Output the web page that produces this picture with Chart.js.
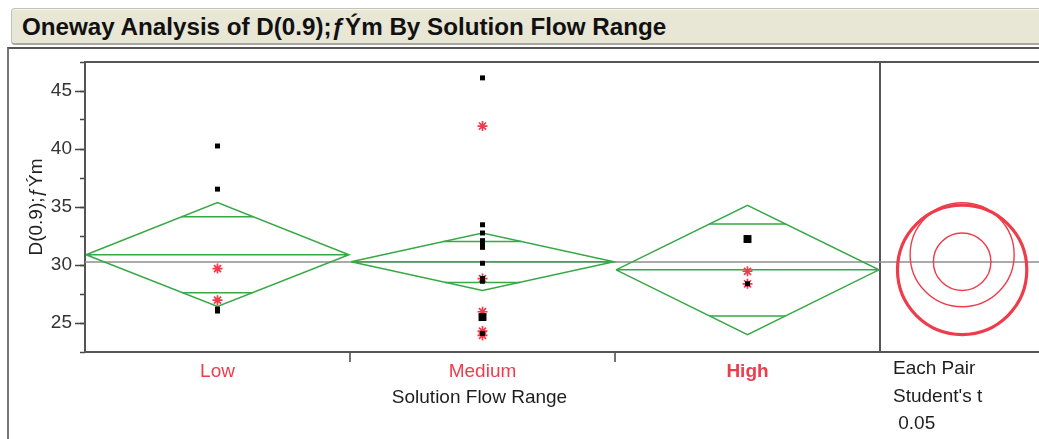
<!DOCTYPE html>
<html>
<head>
<meta charset="utf-8">
<script src="https://cdn.jsdelivr.net/npm/chart.js@4.4.1/dist/chart.umd.min.js"></script>
<style>
  html, body { margin: 0; padding: 0; background: #fff; }
  #page { position: relative; width: 1039px; height: 439px; overflow: hidden; }
  #title {
    position: absolute; left: 11px; top: 8px; width: 1040px; height: 37px;
    box-sizing: border-box; background: #e8e6d5;
    border: 1px solid #c4c2b4; border-bottom: 2px solid #a9a89e; border-radius: 4px;
    box-shadow: inset 0 1px 0 #f6f5ee;
    font: bold 24.2px "Liberation Sans", Arial, sans-serif; color: #111;
    line-height: 35px; padding-left: 10px; white-space: nowrap;
  }
  #frame {
    position: absolute; left: 7px; top: 47px; width: 1040px; height: 400px;
    border-top: 2px solid #555; border-left: 2px solid #777;
  }
  #chart { position: absolute; left: 0; top: 0; }
</style>
</head>
<body>
<div id="page">
<div id="title">Oneway Analysis of D(0.9);ƒÝm By Solution Flow Range</div>
<div id="frame"></div>
<canvas id="chart" width="1039" height="439"></canvas>
</div>
<script>
// Groups on the x axis
const categories = ['Low', 'Medium', 'High'];

// Observations drawn as small black squares, per group
const squareLow = [40.26, 36.54, 26.20, 26.03];
const squareMedium = [46.13, 33.47, 32.76, 32.10, 31.81, 31.52, 30.15, 28.83, 28.60, 24.10];
const squareHigh = [28.38];

// Observations drawn as large black squares
const bigSquareLow = [];
const bigSquareMedium = [25.51];
const bigSquareHigh = [32.24];

// Observations drawn as red asterisks
const starLow = [29.69, 26.97];
const starMedium = [41.98, 28.83, 25.97, 24.30, 23.93];
const starHigh = [29.46, 28.38];

// Means diamonds: group mean, 95% interval ends, overlap marks
const groupMeans = [30.88, 30.28, 29.58];
const ciUpper = [35.39, 32.76, 35.15];
const ciLower = [26.42, 27.80, 24.00];
const overlapUpper = [34.16, 32.03, 33.53];
const overlapLower = [27.60, 28.50, 25.60];
const grandMean = 30.25;

// Y axis ticks
const yMajorTicks = [25, 30, 35, 40, 45];
const yMinorTicks = [22.5, 25, 27.5, 30, 32.5, 35, 37.5, 40, 42.5, 45, 47.5];

const xTitle = 'Solution Flow Range';
const compareNote = ['Each Pair', "Student's t", ' 0.05'];

const FONT = '"Liberation Sans", Arial, Helvetica, sans-serif';
const RED = '#ee3c4b';
const GREEN = '#37a846';
const selectedGroup = 2; // High is the highlighted level
const circleX = 3.31;    // comparison-circle column

function pts(groupIndex, values) {
  return values.map(v => ({ x: groupIndex + 0.5, y: v }));
}
function allPts(lists) {
  return lists.flatMap((vals, i) => pts(i, vals));
}

// Diamond outlines plus their mean lines, broken by gaps
const diamondData = [];
const overlapData = [];
categories.forEach((c, i) => {
  const m = groupMeans[i], l = i + 0.004, r = i + 0.996, mid = i + 0.5;
  diamondData.push(
    { x: l, y: m }, { x: mid, y: ciUpper[i] }, { x: r, y: m }, { x: mid, y: ciLower[i] }, { x: l, y: m },
    { x: mid, y: null },
    { x: l, y: m }, { x: r, y: m },
    { x: mid, y: null }
  );
  // overlap marks run edge to edge across the diamond at their level
  [overlapUpper[i], overlapLower[i]].forEach(v => {
    const tip = v > m ? ciUpper[i] : ciLower[i];
    const half = 0.5 * (1 - (v - m) / (tip - m));
    overlapData.push({ x: mid - half, y: v }, { x: mid + half, y: v }, { x: mid, y: null });
  });
});

const circleData = groupMeans.map(m => ({ x: circleX, y: m }));

const notes = {
  id: 'notes',
  afterDraw(chart) {
    const { ctx, chartArea, scales: { x } } = chart;
    ctx.save();
    ctx.font = '19px ' + FONT;
    ctx.fillStyle = '#1e1e1e';
    ctx.textBaseline = 'middle';
    ctx.textAlign = 'center';
    ctx.fillText(xTitle, x.getPixelForValue(1.5) - 3, chartArea.bottom + 46);
    ctx.textAlign = 'left';
    compareNote.forEach((t, i) => {
      ctx.fillText(t, x.getPixelForValue(3) + 13, chartArea.bottom + 17 + i * 27.5);
    });
    ctx.restore();
  }
};

const noSidePadding = s => { s.paddingLeft = 0; s.paddingRight = 0; };

new Chart(document.getElementById('chart'), {
  type: 'scatter',
  data: {
    datasets: [
      {
        label: 'big squares', data: allPts([bigSquareLow, bigSquareMedium, bigSquareHigh]),
        pointStyle: 'rect', pointRadius: 5.6, pointBackgroundColor: '#000', pointBorderWidth: 0, order: 0
      },
      {
        label: 'squares', data: allPts([squareLow, squareMedium, squareHigh]),
        pointStyle: 'rect', pointRadius: 3.5, pointBackgroundColor: '#000', pointBorderWidth: 0, order: 1
      },
      {
        label: 'asterisks', data: allPts([starLow, starMedium, starHigh]),
        pointStyle: 'star', pointRadius: 5, pointBorderColor: RED, pointBorderWidth: 1.7, order: 2
      },
      {
        label: 'comparison circles', data: circleData,
        pointStyle: 'circle', pointBackgroundColor: 'rgba(0,0,0,0)', pointBorderColor: RED,
        pointRadius: ctx => {
          const y = ctx.chart.scales.y, i = ctx.dataIndex;
          const hw = (ciUpper[i] - ciLower[i]) / 2;
          return Math.abs(y.getPixelForValue(groupMeans[i] + hw) - y.getPixelForValue(groupMeans[i]));
        },
        pointBorderWidth: ctx => ctx.dataIndex === selectedGroup ? 3.2 : 1.4,
        order: 3
      },
      {
        label: 'overlap marks', data: overlapData, showLine: true, spanGaps: false,
        borderColor: GREEN, borderWidth: 1.5, pointRadius: 0, order: 4
      },
      {
        label: 'means diamonds', data: diamondData, showLine: true, spanGaps: false,
        borderColor: GREEN, borderWidth: 1.5, pointRadius: 0, order: 5
      },
      {
        label: 'grand mean', data: [{ x: 0, y: grandMean }, { x: 3.6, y: grandMean }], showLine: true,
        borderColor: '#8e8e8e', borderWidth: 1.5, pointRadius: 0, order: 6
      }
    ]
  },
  options: {
    responsive: false,
    devicePixelRatio: 1,
    animation: false,
    events: [],
    layout: { padding: 0, autoPadding: false },
    plugins: { legend: { display: false }, tooltip: { enabled: false }, title: { display: false } },
    scales: {
      x: {
        type: 'linear', position: 'bottom', min: 0, max: 3.6,
        afterFit: s => { s.height = 87; noSidePadding(s); },
        afterBuildTicks: s => { s.ticks = [0, 0.5, 1, 1.5, 2, 2.5, 3].map(v => ({ value: v })); },
        ticks: {
          autoSkip: false, maxRotation: 0, padding: 0,
          color: RED,
          font: ctx => ({ family: FONT, size: 19, lineHeight: 1,
            weight: ctx.tick && ctx.tick.value === selectedGroup + 0.5 ? 'bold' : 'normal' }),
          callback: v => { const k = v - 0.5; return Number.isInteger(k) ? categories[k] : ''; }
        },
        grid: {
          drawOnChartArea: true,
          color: ctx => ctx.tick && ctx.tick.value === 3 ? '#555' : 'rgba(0,0,0,0)',
          lineWidth: 2,
          tickColor: ctx => ctx.tick && (ctx.tick.value === 1 || ctx.tick.value === 2) ? '#444' : 'rgba(0,0,0,0)',
          tickLength: 10, tickWidth: 1.5
        },
        border: { display: true, color: '#555', width: 2 }
      },
      xTop: {
        type: 'linear', position: 'top', min: 0, max: 3.6,
        afterFit: s => { s.height = 62; noSidePadding(s); },
        ticks: { display: false },
        grid: { display: true, drawOnChartArea: false, drawTicks: false },
        border: { display: true, color: '#555', width: 2 }
      },
      y: {
        type: 'linear', position: 'left', min: 22.5, max: 47.5, weight: 1,
        afterFit: s => { s.width = 85; },
        afterBuildTicks: s => { s.ticks = yMajorTicks.map(v => ({ value: v })); },
        ticks: { color: '#333', padding: 3, font: { family: FONT, size: 19 } },
        grid: { drawOnChartArea: false, tickLength: 10, tickColor: '#444', tickWidth: 1.5 },
        border: { display: true, color: '#555', width: 2 },
        title: {
          display: true, text: 'D(0.9);ƒÝm', color: '#222',
          font: { family: FONT, size: 19 }, padding: { top: 25, bottom: 0 }
        }
      },
      yMinor: {
        type: 'linear', position: 'left', min: 22.5, max: 47.5, weight: 0,
        afterFit: s => { s.width = 0; },
        afterBuildTicks: s => { s.ticks = yMinorTicks.map(v => ({ value: v })); },
        ticks: { display: false },
        grid: { drawOnChartArea: false, tickLength: 5, tickColor: '#444', tickWidth: 1.5 },
        border: { display: false }
      }
    }
  },
  plugins: [notes]
});
</script>
</body>
</html>
